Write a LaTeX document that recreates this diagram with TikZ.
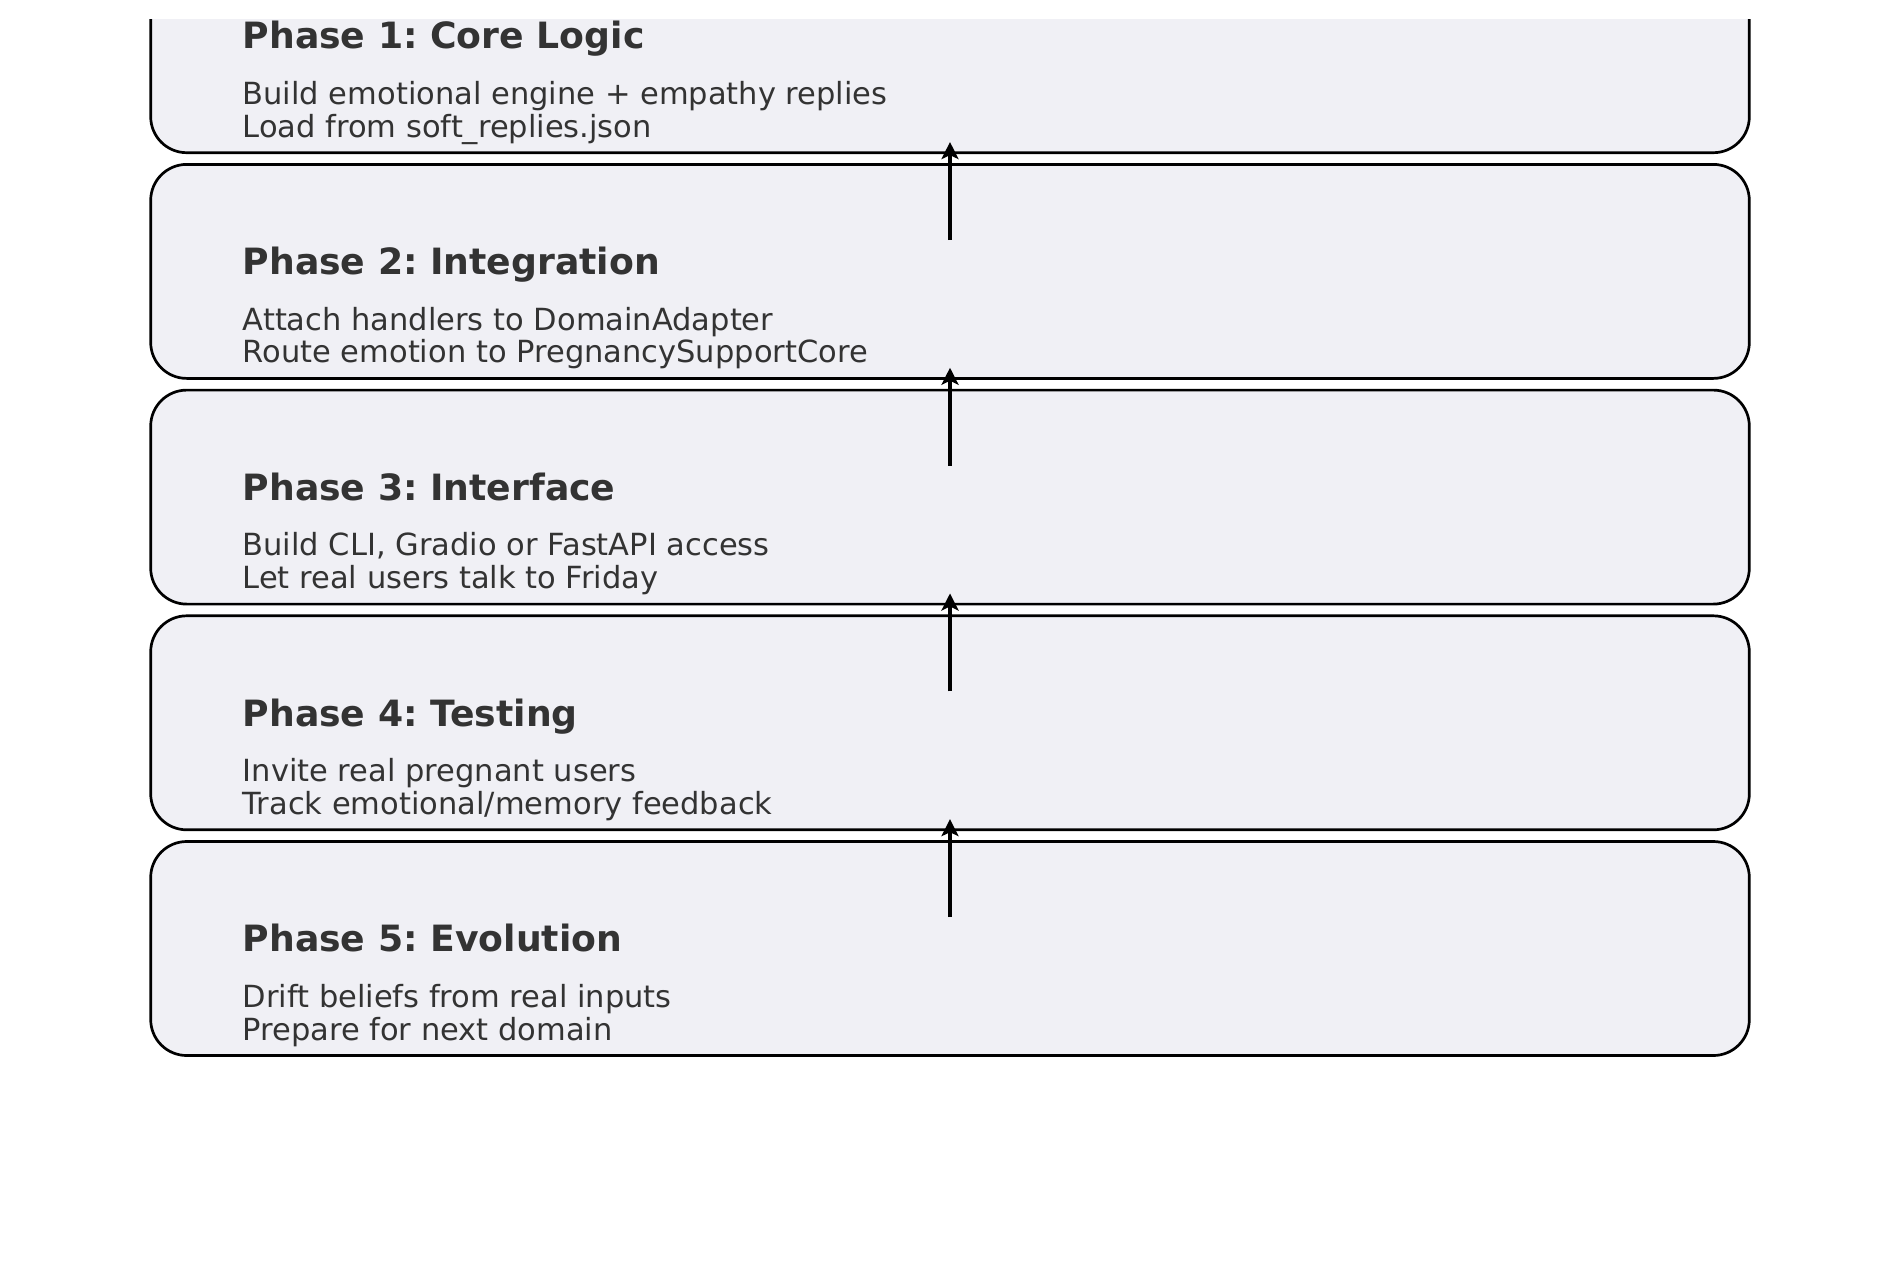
\documentclass[tikz,border=0pt]{standalone}
\usepackage{fontspec}
\setmainfont{DejaVu Sans}
\usetikzlibrary{arrows.meta}
\definecolor{boxfill}{HTML}{F0F0F5}
\definecolor{txt}{HTML}{333333}
\tikzset{
  phasebox/.style={draw=black, line width=2.7pt, fill=boxfill, rounded corners=36pt,
    minimum width=1598.6pt, minimum height=214pt, inner sep=0pt},
  titletext/.style={anchor=base west, inner sep=0pt, text=txt, font=\frenchspacing\fontsize{36.2}{43}\selectfont\bfseries},
  bodytext/.style={anchor=base west, inner sep=0pt, text=txt, font=\frenchspacing\fontsize{30.5}{36}\selectfont},
  upflow/.style={draw=black, line width=3.4pt, -{Stealth[length=17pt, width=17pt, inset=4pt]}}
}
\begin{document}
\begin{tikzpicture}[x=1pt,y=-1pt]
\useasboundingbox[fill=white] (0,0) rectangle (1900,1272);
\begin{scope}
\clip (0,19.5) rectangle (1900,1272);
% boxes (tops: -61.3, 164.4, 390.1, 615.8, 841.5)
\node[phasebox] (p1) at (950,45.7) {};
\node[phasebox] (p2) at (950,271.4) {};
\node[phasebox] (p3) at (950,497.1) {};
\node[phasebox] (p4) at (950,722.8) {};
\node[phasebox] (p5) at (950,948.5) {};
% texts
\node[titletext] (t1) at (242.5,48.9) {Phase 1: Core Logic};
\node[bodytext] (a1) at (242.5,104.5) {Build emotional engine + empathy replies};
\node[bodytext] (b1) at (242.5,137.2) {Load from soft\_replies.json};
\node[titletext] (t2) at (242.5,274.6) {Phase 2: Integration};
\node[bodytext] (a2) at (242.5,330.2) {Attach handlers to DomainAdapter};
\node[bodytext] (b2) at (242.5,362.9) {Route emotion to PregnancySupportCore};
\node[titletext] (t3) at (242.5,500.3) {Phase 3: Interface};
\node[bodytext] (a3) at (242.5,555.9) {Build CLI, Gradio or FastAPI access};
\node[bodytext] (b3) at (242.5,588.6) {Let real users talk to Friday};
\node[titletext] (t4) at (242.5,726.0) {Phase 4: Testing};
\node[bodytext] (a4) at (242.5,781.6) {Invite real pregnant users};
\node[bodytext] (b4) at (242.5,814.3) {Track emotional/memory feedback};
\node[titletext] (t5) at (242.5,951.7) {Phase 5: Evolution};
\node[bodytext] (a5) at (242.5,1007.3) {Drift beliefs from real inputs};
\node[bodytext] (b5) at (242.5,1040.0) {Prepare for next domain};
% arrows
\draw[upflow] ([yshift=-77pt]p2.north) -- ([yshift=12pt]p1.south);
\draw[upflow] ([yshift=-77pt]p3.north) -- ([yshift=12pt]p2.south);
\draw[upflow] ([yshift=-77pt]p4.north) -- ([yshift=12pt]p3.south);
\draw[upflow] ([yshift=-77pt]p5.north) -- ([yshift=12pt]p4.south);
\end{scope}
\end{tikzpicture}
\end{document}
